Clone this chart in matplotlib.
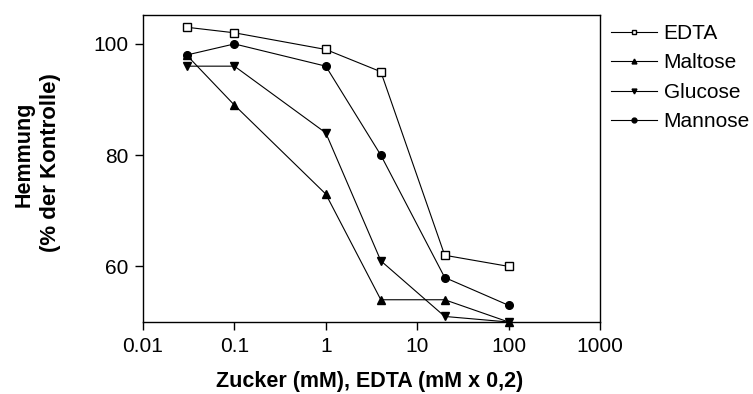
import matplotlib
matplotlib.use("Agg")
import matplotlib.pyplot as plt

plt.rcParams['font.family'] = ['Liberation Sans', 'DejaVu Sans']

x_vals = [0.03, 0.1, 1, 4, 20, 100]
edta = [103, 102, 99, 95, 62, 60]
maltose = [98, 89, 73, 54, 54, 50]
glucose = [96, 96, 84, 61, 51, 50]
mannose = [98, 100, 96, 80, 58, 53]
series_names = ["EDTA", "Maltose", "Glucose", "Mannose"]
x_ticks = [0.01, 0.1, 1, 10, 100, 1000]
x_tick_labels = ["0.01", "0.1", "1", "10", "100", "1000"]
y_ticks = [60, 80, 100]

fig = plt.figure(figsize=(7.53, 3.94), dpi=100)
ax = fig.add_axes([143/753, 1 - 322/394, (600-143)/753, (322-15)/394])

styles = [
    dict(marker='s', mfc='white', mec='black', ms=5.5),
    dict(marker='^', mfc='black', mec='black', ms=5.5),
    dict(marker='v', mfc='black', mec='black', ms=5.5),
    dict(marker='o', mfc='black', mec='black', ms=5.5),
]
for ys, name, st in zip([edta, maltose, glucose, mannose], series_names, styles):
    ax.plot(x_vals, ys, color='black', lw=0.8, label=name, clip_on=False, **st)

ax.set_xscale('log')
ax.set_xlim(0.01, 1000)
ax.set_ylim(50, 105.2)
ax.set_xticks(x_ticks)
ax.set_xticklabels(x_tick_labels)
ax.xaxis.set_minor_locator(matplotlib.ticker.NullLocator())
ax.set_yticks(y_ticks)
ax.tick_params(axis='both', direction='out', length=5.5, width=1, labelsize=15, pad=5)
for sp in ax.spines.values():
    sp.set_linewidth(1.0)

fig.text(370/753, 1 - 382/394, "Zucker (mM), EDTA (mM x 0,2)", ha='center', va='center',
         fontsize=15.5, fontweight='bold')
fig.text(24/753, 1 - 154/394, "Hemmung", rotation=90, ha='center', va='center',
         fontsize=15.5, fontweight='bold')
fig.text(51/753, 1 - 163/394, "(% der Kontrolle)", rotation=90, ha='center', va='center',
         fontsize=16, fontweight='bold')

leg = ax.legend(loc='upper left', bbox_to_anchor=(611/753, 1 - 24/394),
                bbox_transform=fig.transFigure, frameon=False, fontsize=15,
                handlelength=2.2, handletextpad=0.33, labelspacing=0.5,
                borderpad=0, borderaxespad=0)
for h in leg.legend_handles:
    h.set_markersize(3.5)

fig.savefig("out.png", dpi=100)
